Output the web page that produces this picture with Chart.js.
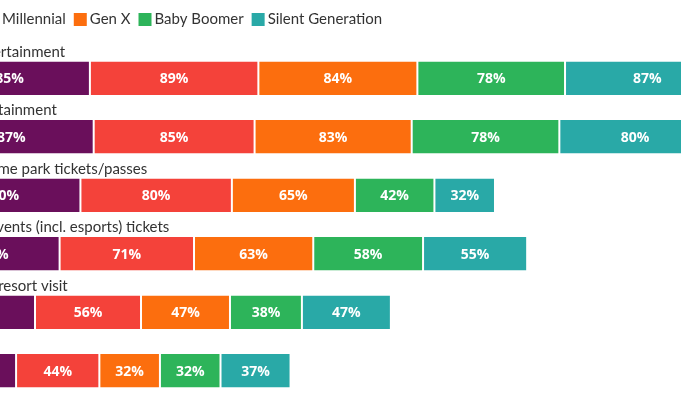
<!DOCTYPE html>
<html lang="en">
<head>
    <meta charset="UTF-8">
    <title>Spending by generation</title>
    <style>
        html, body {
            margin: 0;
            padding: 0;
            width: 681px;
            height: 395px;
            overflow: hidden;
            background: #fff;
        }
        /* the reference is cropped on the left, so the chart sits partly off-page */
        .chart-container {
            position: absolute;
            left: -100px;
            top: 0;
            width: 860px;
            height: 400px;
        }
    </style>
</head>
<body>
    <div class="chart-container">
        <canvas id="genChart"></canvas>
    </div>

    <script src="https://cdn.jsdelivr.net/npm/chart.js"></script>
    <script>
        // data
        const categories = [
            'Video entertainment',
            'Club entertainment',
            'Water/theme park tickets/passes',
            'Sporting events (incl. esports) tickets',
            'Ski/beach resort visit',
            'Movies'
        ];
        const generations = ['Gen Z', 'Millennial', 'Gen X', 'Baby Boomer', 'Silent Generation'];
        const genZ = [85, 87, 80, 69, 56, 46];
        const millennial = [89, 85, 80, 71, 56, 44];
        const genX = [84, 83, 65, 63, 47, 32];
        const boomer = [78, 78, 42, 58, 38, 32];
        const silent = [87, 80, 32, 55, 47, 37];

        const colors = ['#6a0f5b', '#f4423a', '#fc6e0e', '#2db45a', '#29a9a7'];
        const series = [genZ, millennial, genX, boomer, silent];

        // legend row: square box, text right after it
        const topLegend = {
            id: 'topLegend',
            afterDraw(chart) {
                const ctx = chart.ctx;
                let x = 22;
                const y = 19.5;
                ctx.save();
                ctx.font = '15px Lato, sans-serif';
                ctx.textBaseline = 'middle';
                ctx.textAlign = 'left';
                chart.data.datasets.forEach(ds => {
                    ctx.fillStyle = ds.backgroundColor;
                    ctx.fillRect(x, y - 6.5, 13, 13);
                    ctx.fillStyle = '#333';
                    ctx.fillText(ds.label, x + 16, y);
                    x += 16 + ctx.measureText(ds.label).width + 8;
                });
                ctx.restore();
            }
        };

        // category name above each bar
        const categoryLabels = {
            id: 'categoryLabels',
            afterDatasetsDraw(chart) {
                const ctx = chart.ctx;
                const meta = chart.getDatasetMeta(0);
                ctx.save();
                ctx.font = '15px Lato, sans-serif';
                ctx.fillStyle = '#333';
                ctx.textAlign = 'left';
                ctx.textBaseline = 'alphabetic';
                meta.data.forEach((bar, i) => {
                    const top = bar.y - bar.height / 2;
                    ctx.fillText(categories[i], bar.base, top - 5);
                });
                ctx.restore();
            }
        };

        // white percentage in the middle of each segment
        const valueLabels = {
            id: 'valueLabels',
            afterDatasetsDraw(chart) {
                const ctx = chart.ctx;
                ctx.save();
                ctx.font = 'bold 14px "Open Sans", sans-serif';
                ctx.fillStyle = '#fff';
                ctx.textAlign = 'center';
                ctx.textBaseline = 'middle';
                chart.data.datasets.forEach((ds, d) => {
                    chart.getDatasetMeta(d).data.forEach((bar, i) => {
                        ctx.fillText(ds.data[i] + '%', (bar.x + bar.base) / 2, bar.y + 1);
                    });
                });
                ctx.restore();
            }
        };

        new Chart(document.getElementById('genChart'), {
            type: 'bar',
            data: {
                labels: categories,
                datasets: series.map((values, i) => ({
                    label: generations[i],
                    data: values,
                    backgroundColor: colors[i],
                    borderColor: '#fff',
                    borderWidth: { left: 1, right: 1, top: 0, bottom: 0 },
                    borderSkipped: false,
                    barPercentage: 0.57,
                    categoryPercentage: 1
                }))
            },
            options: {
                indexAxis: 'y',
                responsive: true,
                maintainAspectRatio: false,
                animation: false,
                layout: { padding: { top: 49, left: 0, right: 0, bottom: 0 } },
                plugins: {
                    tooltip: { enabled: false },
                    legend: { display: false }
                },
                scales: {
                    x: {
                        display: false,
                        stacked: true,
                        min: 0,
                        max: 439
                    },
                    y: {
                        stacked: true,
                        grid: { display: false },
                        border: { display: false },
                        ticks: { display: false },
                        afterFit(scale) { scale.width = 29; }
                    }
                }
            },
            plugins: [categoryLabels, valueLabels, topLegend]
        });
    </script>
</body>
</html>
